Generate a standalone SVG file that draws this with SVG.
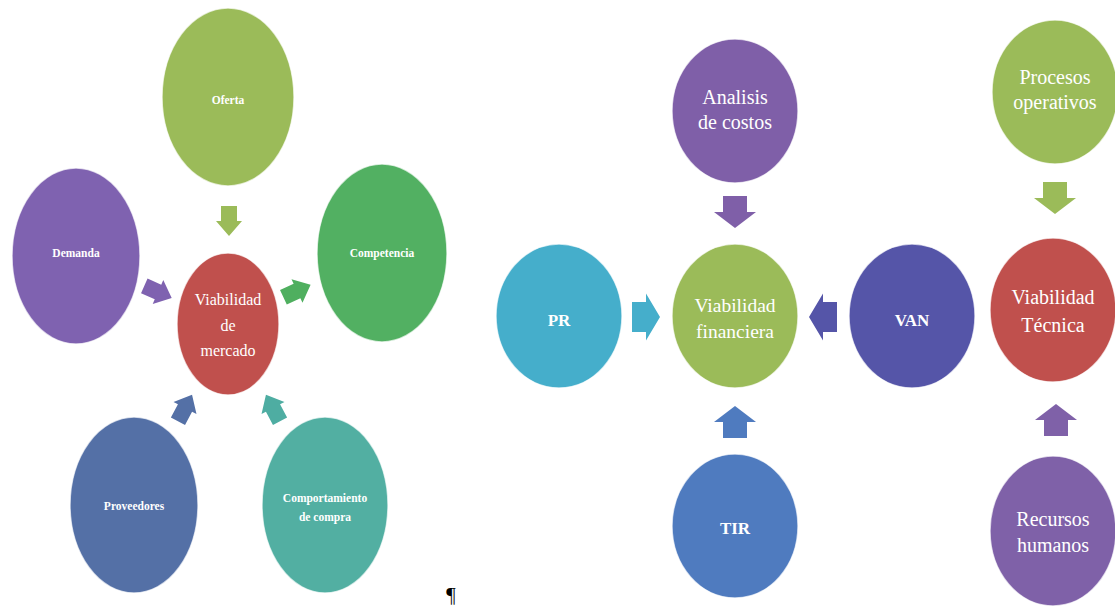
<svg xmlns="http://www.w3.org/2000/svg" width="1115" height="609" viewBox="0 0 1115 609">
<style>
.n{stroke:#ffffff;stroke-width:1.5;stroke-opacity:0.7}
.t{font-family:"Liberation Serif","DejaVu Serif",serif;fill:#ffffff;text-anchor:middle}
.s{font-size:11.5px;font-weight:bold}
.m{font-size:16px}
.l{font-size:20px}
.b{font-size:17px;font-weight:bold}
.pm{font-family:"Liberation Serif","DejaVu Serif",serif;font-size:21px;fill:#000000;text-anchor:middle}
</style>
<defs>
<path id="arrS" d="M-15,-8 H0 V-13 L15,0 L0,13 V8 H-15 Z"/>
<path id="arrM" d="M-16,-12 H0 V-21 L16,0 L0,21 V12 H-16 Z"/>
<path id="arrW" d="M-14,-15 H0 V-23.5 L14,0 L0,23.5 V15 H-14 Z"/>
</defs>
<rect width="1115" height="609" fill="#ffffff"/>

<g id="connectors">
<use href="#arrS" transform="translate(229,221) rotate(90)" fill="#9BBB59"/>
<use href="#arrS" transform="translate(158,292) rotate(24)" fill="#7F62B0"/>
<use href="#arrS" transform="translate(297,291) rotate(-25)" fill="#4FAF5F"/>
<use href="#arrS" transform="translate(185,408) rotate(-62)" fill="#5470A6"/>
<use href="#arrS" transform="translate(273,408) rotate(-118)" fill="#4EADA2"/>
<use href="#arrM" transform="translate(735,212) rotate(90)" fill="#7F5FA8"/>
<use href="#arrW" transform="translate(646,317)" fill="#45AECB"/>
<use href="#arrW" transform="translate(823,317) rotate(180)" fill="#5555A8"/>
<use href="#arrM" transform="translate(735,422) rotate(-90)" fill="#4F7BBF"/>
<use href="#arrM" transform="translate(1055,198) rotate(90)" fill="#9BBB59"/>
<use href="#arrM" transform="translate(1056,420) rotate(-90)" fill="#7F61A8"/>
</g>

<g id="oferta"><ellipse class="n" cx="228" cy="97" rx="66" ry="89" fill="#9BBB59"/><text class="t s" x="228" y="104">Oferta</text></g>
<g id="demanda"><ellipse class="n" cx="76" cy="256" rx="64" ry="88" fill="#7F62B0"/><text class="t s" x="76" y="257">Demanda</text></g>
<g id="competencia"><ellipse class="n" cx="382" cy="253" rx="65" ry="89" fill="#52B062"/><text class="t s" x="382" y="257">Competencia</text></g>
<g id="viabilidad-mercado"><ellipse class="n" cx="228" cy="324" rx="51" ry="71" fill="#C0504D"/><text class="t m" x="228" y="305">Viabilidad</text><text class="t m" x="228" y="331">de</text><text class="t m" x="228" y="356">mercado</text></g>
<g id="proveedores"><ellipse class="n" cx="134" cy="505" rx="64" ry="88" fill="#5470A6"/><text class="t s" x="134" y="510">Proveedores</text></g>
<g id="comportamiento"><ellipse class="n" cx="325" cy="505" rx="63" ry="88" fill="#52AFA2"/><text class="t s" x="325" y="502">Comportamiento</text><text class="t s" x="325" y="521">de compra</text></g>

<g id="analisis"><ellipse class="n" cx="735" cy="111" rx="63" ry="72" fill="#7F5FA8"/><text class="t l" x="735" y="104">Analisis</text><text class="t l" x="735" y="129">de costos</text></g>
<g id="viabilidad-financiera"><ellipse class="n" cx="735" cy="316" rx="63" ry="72" fill="#9BBB59"/><text class="t l" x="735" y="312" style="font-size:19.5px">Viabilidad</text><text class="t l" x="735" y="338" style="font-size:19.5px">financiera</text></g>
<g id="pr"><ellipse class="n" cx="559" cy="316" rx="63" ry="72" fill="#45AECB"/><text class="t b" x="559" y="326">PR</text></g>
<g id="van"><ellipse class="n" cx="912" cy="316" rx="63" ry="72" fill="#5555A8"/><text class="t b" x="912" y="326">VAN</text></g>
<g id="tir"><ellipse class="n" cx="735" cy="526" rx="63" ry="72" fill="#4F7BBF"/><text class="t b" x="735" y="534">TIR</text></g>

<g id="procesos"><ellipse class="n" cx="1055" cy="92" rx="63" ry="72" fill="#9BBB59"/><text class="t l" x="1055" y="84">Procesos</text><text class="t l" x="1055" y="109">operativos</text></g>
<g id="viabilidad-tecnica"><ellipse class="n" cx="1053" cy="310" rx="63" ry="72" fill="#C0504D"/><text class="t l" x="1053" y="304">Viabilidad</text><text class="t l" x="1053" y="332">Técnica</text></g>
<g id="recursos"><ellipse class="n" cx="1053" cy="531" rx="63" ry="75" fill="#7F61A8"/><text class="t l" x="1053" y="526">Recursos</text><text class="t l" x="1053" y="552">humanos</text></g>

<text class="pm" x="451" y="602">¶</text>
</svg>
